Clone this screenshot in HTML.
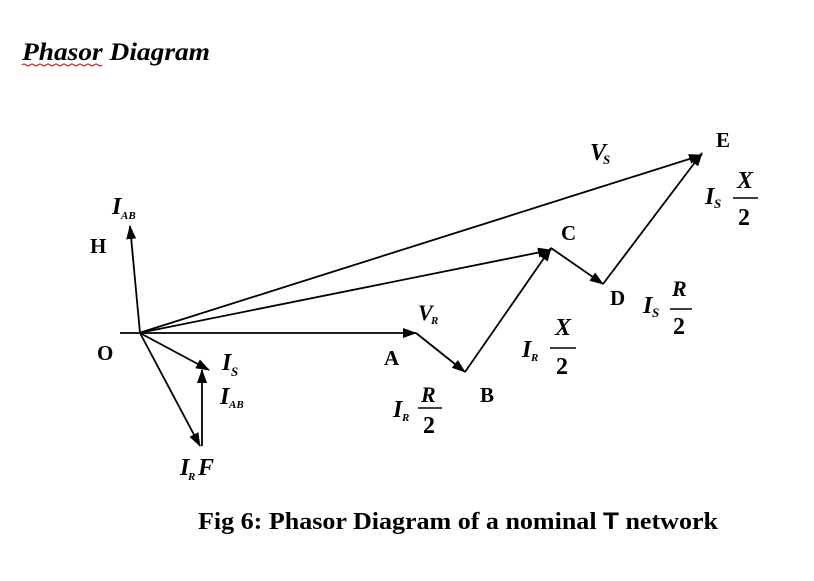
<!DOCTYPE html>
<html><head><style>
body{margin:0;background:#fff;width:814px;height:581px;overflow:hidden}
svg{display:block}
text{font-family:"Liberation Serif",serif;font-weight:bold;fill:#000}
.i{font-style:italic}
</style></head><body>
<svg width="814" height="581" viewBox="0 0 814 581">
<defs><marker id="a" markerWidth="14" markerHeight="10" refX="13" refY="5" orient="auto" markerUnits="userSpaceOnUse"><path d="M0,0 L14,5 L0,10 z" fill="#000"/></marker></defs>
<text x="22" y="60" font-size="25" class="i" textLength="188" lengthAdjust="spacingAndGlyphs">Phasor Diagram</text>
<path d="M22,65 q2,-2 4,0 t4,0 t4,0 t4,0 t4,0 t4,0 t4,0 t4,0 t4,0 t4,0 t4,0 t4,0 t4,0 t4,0 t4,0 t4,0 t4,0 t4,0 t4,0 t4,0" stroke="#c00" fill="none" stroke-width="1"/>
<g stroke="#000" stroke-width="1.8" fill="none">
<line x1="120" y1="333" x2="416" y2="333" marker-end="url(#a)"/>
<line x1="416" y1="333" x2="465" y2="372" marker-end="url(#a)"/>
<line x1="465" y1="372" x2="551" y2="248" marker-end="url(#a)"/>
<line x1="551" y1="248" x2="603" y2="284" marker-end="url(#a)"/>
<line x1="603" y1="284" x2="702" y2="153" marker-end="url(#a)"/>
<line x1="139" y1="333" x2="551" y2="250" marker-end="url(#a)"/>
<line x1="139" y1="333" x2="702" y2="155" marker-end="url(#a)"/>
<line x1="140" y1="333" x2="130" y2="226" marker-end="url(#a)"/>
<line x1="140" y1="333" x2="209" y2="370" marker-end="url(#a)"/>
<line x1="140" y1="333" x2="200" y2="446" marker-end="url(#a)"/>
<line x1="202" y1="446" x2="202" y2="370" marker-end="url(#a)"/>
</g>
<text x="90" y="253" font-size="21">H</text>
<text x="97" y="360" font-size="21">O</text>
<text x="384" y="365" font-size="21">A</text>
<text x="480" y="402" font-size="21">B</text>
<text x="561" y="240" font-size="21">C</text>
<text x="610" y="305" font-size="21">D</text>
<text x="716" y="147" font-size="21">E</text>
<text x="112" y="214" font-size="24" class="i">I</text><text x="121" y="219" font-size="11" class="i">AB</text>
<text x="222" y="370" font-size="24" class="i">I</text><text x="231" y="376" font-size="13" class="i">S</text>
<text x="220" y="404" font-size="24" class="i">I</text><text x="229" y="408" font-size="11" class="i">AB</text>
<text x="180" y="475" font-size="24" class="i">I</text><text x="188" y="480" font-size="11" class="i">R</text><text x="198" y="475" font-size="24" class="i">F</text>
<text x="590" y="160" font-size="24" class="i">V</text><text x="603" y="164" font-size="13" class="i">S</text>
<text x="418" y="320" font-size="22" class="i">V</text><text x="431" y="324" font-size="11" class="i">R</text>
<g font-size="24">
<text x="393" y="417" class="i">I</text><text x="402" y="421" font-size="11" class="i">R</text><text x="421" y="402" font-size="22" class="i">R</text><line x1="418" y1="408" x2="442" y2="408" stroke="#000" stroke-width="1.4"/><text x="423" y="433">2</text>
<text x="522" y="357" class="i">I</text><text x="531" y="361" font-size="11" class="i">R</text><text x="555" y="335" class="i">X</text><line x1="550" y1="348" x2="576" y2="348" stroke="#000" stroke-width="1.4"/><text x="556" y="374">2</text>
<text x="643" y="313" class="i">I</text><text x="652" y="317" font-size="13" class="i">S</text><text x="672" y="296" font-size="22" class="i">R</text><line x1="670" y1="309" x2="692" y2="309" stroke="#000" stroke-width="1.4"/><text x="673" y="334">2</text>
<text x="705" y="204" class="i">I</text><text x="714" y="208" font-size="13" class="i">S</text><text x="737" y="188" class="i">X</text><line x1="733" y1="198" x2="758" y2="198" stroke="#000" stroke-width="1.4"/><text x="738" y="225">2</text>
</g>
<text x="198" y="529" font-size="24" textLength="520" lengthAdjust="spacingAndGlyphs">Fig 6: Phasor Diagram of a nominal <tspan font-family="Liberation Sans,sans-serif">T</tspan> network</text>
</svg>
</body></html>
